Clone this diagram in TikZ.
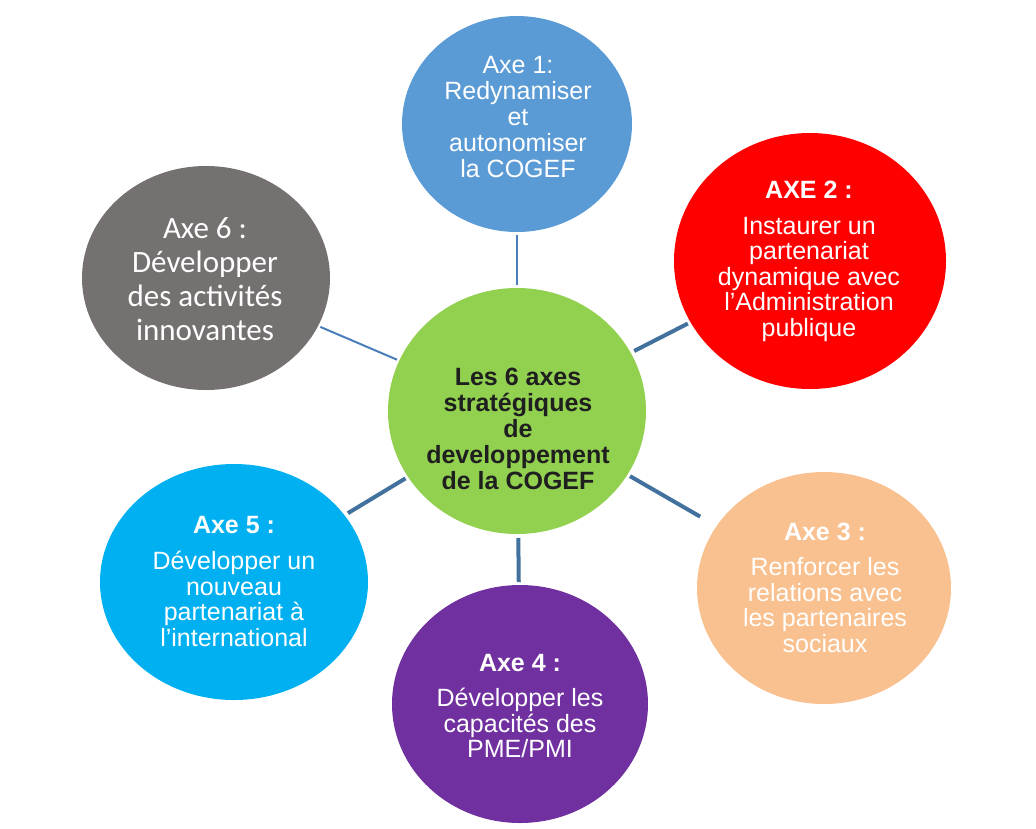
\documentclass[tikz,border=0pt]{standalone}
\usepackage{fontspec}
\setmainfont{Liberation Sans}
\newfontfamily\carlito{Carlito}
\usetikzlibrary{shapes.geometric}
\definecolor{cblue}{HTML}{5B9BD5}
\definecolor{cred}{HTML}{FF0000}
\definecolor{cpeach}{HTML}{F9C18F}
\definecolor{cpurple}{HTML}{7030A0}
\definecolor{ccyan}{HTML}{00B0F0}
\definecolor{cgray}{HTML}{767171}
\definecolor{cgreen}{HTML}{92D050}
\definecolor{lthick}{HTML}{41719C}
\definecolor{lthin}{HTML}{4A7EBB}
\definecolor{ctext}{HTML}{1F1F1F}
\tikzset{
  blob/.style={ellipse, inner sep=0pt, outer sep=0pt, draw=none},
  txt/.style={align=center, inner sep=0pt, text=white, font=\fontsize{25}{25.5}\selectfont},
  linkthick/.style={draw=lthick, line width=4pt},
  linkthin/.style={draw=lthin, line width=2pt},
}
\begin{document}
\begin{tikzpicture}[x=1pt,y=-1pt]
\useasboundingbox (0,0) rectangle (1036,828);
% circles
\node[blob, fill=cgreen,  minimum width=258pt, minimum height=246pt] (c)  at (517,411) {};
\node[blob, fill=cblue,   minimum width=230pt, minimum height=216pt] (a1) at (517,124) {};
\node[blob, fill=cred,    minimum width=272pt, minimum height=256pt] (a2) at (810,261) {};
\node[blob, fill=cpeach,  minimum width=254pt, minimum height=232pt] (a3) at (824,588) {};
\node[blob, fill=cpurple, minimum width=256pt, minimum height=238pt] (a4) at (520,704) {};
\node[blob, fill=ccyan,   minimum width=268pt, minimum height=236pt] (a5) at (234,582) {};
\node[blob, fill=cgray,   minimum width=248pt, minimum height=224pt] (a6) at (206,278) {};
% connectors
\draw[linkthin,  shorten <=3pt, shorten >=3pt]  (c) -- (a1);
\draw[linkthick, shorten <=4pt, shorten >=3pt]  (c) -- (a2);
\draw[linkthick, shorten <=3pt, shorten >=19pt] (c) -- (a3);
\draw[linkthick, shorten <=4pt, shorten >=3pt]  (c) -- (a4);
\draw[linkthick, shorten <=3pt, shorten >=4pt]  (c) -- (a5);
\draw[linkthin,  shorten <=2.5pt, shorten >=2.5pt] (c) -- (a6);
% texts
\node[txt, text=ctext, font=\bfseries\fontsize{25}{26}\selectfont] (tc) at (518,428.5)
  {Les 6 axes\\strat\'egiques\\de\\developpement\\de la COGEF};
\node[txt, font=\fontsize{25}{26}\selectfont] (t1) at (518,117)
  {Axe 1:\\Redynamiser\\et\\autonomiser\\la COGEF};
\node[txt] (t2) at (809,261.5)
  {\textbf{AXE 2 :}\\[10pt]Instaurer un\\partenariat\\dynamique avec\\l’Administration\\publique};
\node[txt] (t3) at (825,587.5)
  {\textbf{Axe 3 :}\\[10pt]Renforcer les\\relations avec\\les partenaires\\sociaux};
\node[txt] (t4) at (520,706)
  {\textbf{Axe 4 :}\\[10pt]D\'evelopper les\\capacit\'es des\\PME/PMI};
\node[txt] (t5) at (234,581.5)
  {\textbf{Axe 5 :}\\[11pt]D\'evelopper un\\nouveau\\partenariat \`a\\l’international};
\node[txt, font=\carlito\fontsize{31}{34}\selectfont] (t6) at (205,279)
  {Axe 6 :\\D\'evelopper\\des activit\'es\\innovantes};
\end{tikzpicture}
\end{document}
